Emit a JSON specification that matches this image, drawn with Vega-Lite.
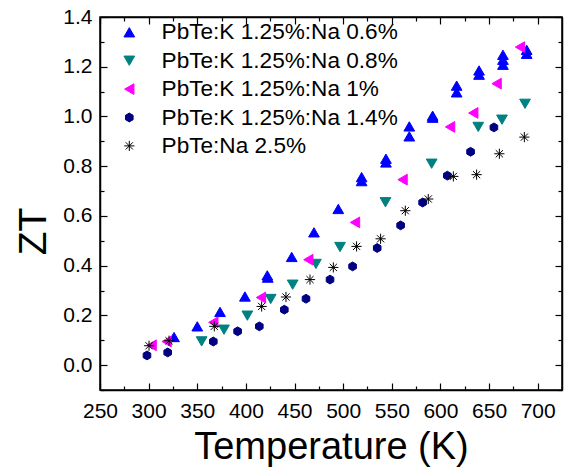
{
  "$schema": "https://vega.github.io/schema/vega-lite/v6.json",
  "autosize": {"type": "none"},
  "width": 462,
  "height": 373,
  "padding": {"left": 100, "top": 17, "right": 13, "bottom": 77},
  "background": "white",
  "config": {
    "view": {"stroke": "#000000", "strokeWidth": 1.5},
    "font": "Liberation Sans",
    "axis": {
      "domain": true,
      "domainColor": "#000000",
      "domainWidth": 1.5,
      "tickColor": "#000000",
      "tickWidth": 1.2,
      "grid": false,
      "labelFont": "Liberation Sans",
      "labelFontSize": 21,
      "labelColor": "#000000",
      "titleFont": "Liberation Sans",
      "titleFontWeight": "normal",
      "titleColor": "#000000"
    }
  },
  "data": {
    "values": [
      {"s": "PbTe:K 1.25%:Na 0.6%", "T": 326.1, "ZT": 0.113},
      {"s": "PbTe:K 1.25%:Na 0.6%", "T": 350.0, "ZT": 0.156},
      {"s": "PbTe:K 1.25%:Na 0.6%", "T": 373.4, "ZT": 0.214},
      {"s": "PbTe:K 1.25%:Na 0.6%", "T": 399.0, "ZT": 0.276},
      {"s": "PbTe:K 1.25%:Na 0.6%", "T": 422.0, "ZT": 0.361},
      {"s": "PbTe:K 1.25%:Na 0.6%", "T": 422.5, "ZT": 0.352},
      {"s": "PbTe:K 1.25%:Na 0.6%", "T": 447.1, "ZT": 0.435},
      {"s": "PbTe:K 1.25%:Na 0.6%", "T": 470.0, "ZT": 0.534},
      {"s": "PbTe:K 1.25%:Na 0.6%", "T": 495.0, "ZT": 0.628},
      {"s": "PbTe:K 1.25%:Na 0.6%", "T": 519.0, "ZT": 0.756},
      {"s": "PbTe:K 1.25%:Na 0.6%", "T": 519.0, "ZT": 0.740},
      {"s": "PbTe:K 1.25%:Na 0.6%", "T": 544.0, "ZT": 0.830},
      {"s": "PbTe:K 1.25%:Na 0.6%", "T": 544.0, "ZT": 0.815},
      {"s": "PbTe:K 1.25%:Na 0.6%", "T": 568.0, "ZT": 0.960},
      {"s": "PbTe:K 1.25%:Na 0.6%", "T": 568.0, "ZT": 0.920},
      {"s": "PbTe:K 1.25%:Na 0.6%", "T": 592.0, "ZT": 1.003},
      {"s": "PbTe:K 1.25%:Na 0.6%", "T": 592.0, "ZT": 0.995},
      {"s": "PbTe:K 1.25%:Na 0.6%", "T": 616.7, "ZT": 1.124},
      {"s": "PbTe:K 1.25%:Na 0.6%", "T": 616.7, "ZT": 1.097},
      {"s": "PbTe:K 1.25%:Na 0.6%", "T": 639.7, "ZT": 1.185},
      {"s": "PbTe:K 1.25%:Na 0.6%", "T": 639.7, "ZT": 1.168},
      {"s": "PbTe:K 1.25%:Na 0.6%", "T": 664.3, "ZT": 1.248},
      {"s": "PbTe:K 1.25%:Na 0.6%", "T": 664.3, "ZT": 1.228},
      {"s": "PbTe:K 1.25%:Na 0.6%", "T": 664.3, "ZT": 1.208},
      {"s": "PbTe:K 1.25%:Na 0.6%", "T": 688.7, "ZT": 1.268},
      {"s": "PbTe:K 1.25%:Na 0.6%", "T": 688.7, "ZT": 1.252},
      {"s": "PbTe:K 1.25%:Na 0.8%", "T": 354.5, "ZT": 0.0955},
      {"s": "PbTe:K 1.25%:Na 0.8%", "T": 377.5, "ZT": 0.1425},
      {"s": "PbTe:K 1.25%:Na 0.8%", "T": 401.5, "ZT": 0.199},
      {"s": "PbTe:K 1.25%:Na 0.8%", "T": 425.5, "ZT": 0.266},
      {"s": "PbTe:K 1.25%:Na 0.8%", "T": 448.1, "ZT": 0.3235},
      {"s": "PbTe:K 1.25%:Na 0.8%", "T": 472.0, "ZT": 0.407},
      {"s": "PbTe:K 1.25%:Na 0.8%", "T": 496.8, "ZT": 0.475},
      {"s": "PbTe:K 1.25%:Na 0.8%", "T": 543.5, "ZT": 0.655},
      {"s": "PbTe:K 1.25%:Na 0.8%", "T": 591.0, "ZT": 0.810},
      {"s": "PbTe:K 1.25%:Na 0.8%", "T": 638.9, "ZT": 0.958},
      {"s": "PbTe:K 1.25%:Na 0.8%", "T": 663.3, "ZT": 0.987},
      {"s": "PbTe:K 1.25%:Na 0.8%", "T": 687.0, "ZT": 1.051},
      {"s": "PbTe:K 1.25%:Na 1%", "T": 303.1, "ZT": 0.080},
      {"s": "PbTe:K 1.25%:Na 1%", "T": 318.5, "ZT": 0.095},
      {"s": "PbTe:K 1.25%:Na 1%", "T": 366.5, "ZT": 0.172},
      {"s": "PbTe:K 1.25%:Na 1%", "T": 415.5, "ZT": 0.272},
      {"s": "PbTe:K 1.25%:Na 1%", "T": 464.2, "ZT": 0.424},
      {"s": "PbTe:K 1.25%:Na 1%", "T": 512.2, "ZT": 0.574},
      {"s": "PbTe:K 1.25%:Na 1%", "T": 561.1, "ZT": 0.746},
      {"s": "PbTe:K 1.25%:Na 1%", "T": 609.9, "ZT": 0.958},
      {"s": "PbTe:K 1.25%:Na 1%", "T": 633.8, "ZT": 1.014},
      {"s": "PbTe:K 1.25%:Na 1%", "T": 657.8, "ZT": 1.132},
      {"s": "PbTe:K 1.25%:Na 1%", "T": 681.8, "ZT": 1.279},
      {"s": "PbTe:K 1.25%:Na 1.4%", "T": 298.3, "ZT": 0.039},
      {"s": "PbTe:K 1.25%:Na 1.4%", "T": 319.6, "ZT": 0.051},
      {"s": "PbTe:K 1.25%:Na 1.4%", "T": 366.5, "ZT": 0.095},
      {"s": "PbTe:K 1.25%:Na 1.4%", "T": 391.5, "ZT": 0.136},
      {"s": "PbTe:K 1.25%:Na 1.4%", "T": 413.8, "ZT": 0.156},
      {"s": "PbTe:K 1.25%:Na 1.4%", "T": 439.5, "ZT": 0.223},
      {"s": "PbTe:K 1.25%:Na 1.4%", "T": 461.8, "ZT": 0.267},
      {"s": "PbTe:K 1.25%:Na 1.4%", "T": 486.5, "ZT": 0.344},
      {"s": "PbTe:K 1.25%:Na 1.4%", "T": 509.7, "ZT": 0.397},
      {"s": "PbTe:K 1.25%:Na 1.4%", "T": 535.0, "ZT": 0.471},
      {"s": "PbTe:K 1.25%:Na 1.4%", "T": 559.1, "ZT": 0.562},
      {"s": "PbTe:K 1.25%:Na 1.4%", "T": 581.7, "ZT": 0.654},
      {"s": "PbTe:K 1.25%:Na 1.4%", "T": 607.1, "ZT": 0.762},
      {"s": "PbTe:K 1.25%:Na 1.4%", "T": 631.0, "ZT": 0.858},
      {"s": "PbTe:K 1.25%:Na 1.4%", "T": 655.0, "ZT": 0.956},
      {"s": "PbTe:Na 2.5%", "T": 300.4, "ZT": 0.078},
      {"s": "PbTe:Na 2.5%", "T": 321.0, "ZT": 0.098},
      {"s": "PbTe:Na 2.5%", "T": 367.5, "ZT": 0.156},
      {"s": "PbTe:Na 2.5%", "T": 416.2, "ZT": 0.236},
      {"s": "PbTe:Na 2.5%", "T": 441.2, "ZT": 0.274},
      {"s": "PbTe:Na 2.5%", "T": 465.9, "ZT": 0.344},
      {"s": "PbTe:Na 2.5%", "T": 489.9, "ZT": 0.393},
      {"s": "PbTe:Na 2.5%", "T": 513.8, "ZT": 0.4775},
      {"s": "PbTe:Na 2.5%", "T": 538.5, "ZT": 0.508},
      {"s": "PbTe:Na 2.5%", "T": 563.9, "ZT": 0.621},
      {"s": "PbTe:Na 2.5%", "T": 587.5, "ZT": 0.668},
      {"s": "PbTe:Na 2.5%", "T": 613.3, "ZT": 0.759},
      {"s": "PbTe:Na 2.5%", "T": 637.2, "ZT": 0.766},
      {"s": "PbTe:Na 2.5%", "T": 660.6, "ZT": 0.850},
      {"s": "PbTe:Na 2.5%", "T": 686.3, "ZT": 0.917}
    ]
  },
  "layer": [
    {
      "mark": {"type": "point", "filled": true, "size": 115, "strokeWidth": 1, "opacity": 1},
      "encoding": {
        "x": {
          "field": "T", "type": "quantitative",
          "scale": {"domain": [250, 725], "nice": false, "zero": false},
          "axis": {
            "orient": "bottom",
            "domain": true,
            "title": "Temperature (K)",
            "titleFontSize": 38,
            "titleBaseline": "alphabetic",
            "titleY": 68,
            "values": [250, 300, 350, 400, 450, 500, 550, 600, 650, 700],
            "format": "d",
            "tickSize": -7,
            "labelPadding": 17,
            "labelFlush": false,
            "labelOverlap": false
          }
        },
        "y": {
          "field": "ZT", "type": "quantitative",
          "scale": {"domain": [-0.1, 1.4], "nice": false, "zero": false},
          "axis": {
            "orient": "left",
            "domain": true,
            "title": "ZT",
            "titleFontSize": 39,
            "titleBaseline": "alphabetic",
            "titleX": -55,
            "titleY": 214,
            "values": [0, 0.2, 0.4, 0.6, 0.8, 1.0, 1.2, 1.4],
            "format": ".1f",
            "tickSize": -7,
            "labelPadding": 15,
            "labelFlush": false,
            "labelOverlap": false
          }
        },
        "fill": {
          "field": "s", "type": "nominal",
          "scale": {
            "domain": ["PbTe:K 1.25%:Na 0.6%", "PbTe:K 1.25%:Na 0.8%", "PbTe:K 1.25%:Na 1%", "PbTe:K 1.25%:Na 1.4%", "PbTe:Na 2.5%"],
            "range": ["#0000FF", "#008080", "#FF00FF", "#000080", "#000000"]
          },
          "legend": {
            "title": null,
            "orient": "none",
            "legendX": 18,
            "legendY": 4,
            "symbolSize": 115,
            "symbolStrokeWidth": 1,
            "labelFont": "Liberation Sans",
            "labelFontSize": 22.6,
            "labelColor": "#000000",
            "labelOffset": 21,
            "labelLimit": 400,
            "rowPadding": 5.4,
            "padding": 0
          }
        },
        "stroke": {
          "field": "s", "type": "nominal",
          "scale": {
            "domain": ["PbTe:K 1.25%:Na 0.6%", "PbTe:K 1.25%:Na 0.8%", "PbTe:K 1.25%:Na 1%", "PbTe:K 1.25%:Na 1.4%", "PbTe:Na 2.5%"],
            "range": ["#0000FF", "#008080", "#FF00FF", "#000080", "#000000"]
          }
        },
        "shape": {
          "field": "s", "type": "nominal",
          "scale": {
            "domain": ["PbTe:K 1.25%:Na 0.6%", "PbTe:K 1.25%:Na 0.8%", "PbTe:K 1.25%:Na 1%", "PbTe:K 1.25%:Na 1.4%", "PbTe:Na 2.5%"],
            "range": ["triangle-up", "triangle-down", "triangle-left", "M0,-0.82L0.71,-0.41L0.71,0.41L0,0.82L-0.71,0.41L-0.71,-0.41Z", "M-0.95,0L0.95,0M0,-0.95L0,0.95M-0.67,-0.67L0.67,0.67M-0.67,0.67L0.67,-0.67"]
          }
        }
      }
    },
    {
      "mark": {"type": "point", "size": 1, "fillOpacity": 0, "strokeOpacity": 0},
      "encoding": {
        "x": {
          "field": "T", "type": "quantitative",
          "axis": {
            "orient": "bottom", "title": null, "labels": false, "domain": false,
            "values": [275, 325, 375, 425, 475, 525, 575, 625, 675],
            "tickSize": -4
          }
        },
        "y": {
          "field": "ZT", "type": "quantitative",
          "axis": {
            "orient": "left", "title": null, "labels": false, "domain": false,
            "values": [-0.1, 0.1, 0.3, 0.5, 0.7, 0.9, 1.1, 1.3],
            "tickSize": -4
          }
        }
      }
    },
    {
      "mark": {"type": "point", "size": 1, "fillOpacity": 0, "strokeOpacity": 0},
      "encoding": {
        "x": {
          "field": "T", "type": "quantitative",
          "axis": {
            "orient": "top", "title": null, "labels": false, "domain": true,
            "values": [250, 300, 350, 400, 450, 500, 550, 600, 650, 700],
            "tickSize": -7
          }
        },
        "y": {
          "field": "ZT", "type": "quantitative",
          "axis": {
            "orient": "right", "title": null, "labels": false, "domain": true,
            "values": [0, 0.2, 0.4, 0.6, 0.8, 1.0, 1.2, 1.4],
            "tickSize": -7
          }
        }
      }
    },
    {
      "mark": {"type": "point", "size": 1, "fillOpacity": 0, "strokeOpacity": 0},
      "encoding": {
        "x": {
          "field": "T", "type": "quantitative",
          "axis": {
            "orient": "top", "title": null, "labels": false, "domain": false,
            "values": [275, 325, 375, 425, 475, 525, 575, 625, 675],
            "tickSize": -4
          }
        },
        "y": {
          "field": "ZT", "type": "quantitative",
          "axis": {
            "orient": "right", "title": null, "labels": false, "domain": false,
            "values": [-0.1, 0.1, 0.3, 0.5, 0.7, 0.9, 1.1, 1.3],
            "tickSize": -4
          }
        }
      }
    }
  ],
  "resolve": {"scale": {"x": "shared", "y": "shared"}, "axis": {"x": "independent", "y": "independent"}}
}
